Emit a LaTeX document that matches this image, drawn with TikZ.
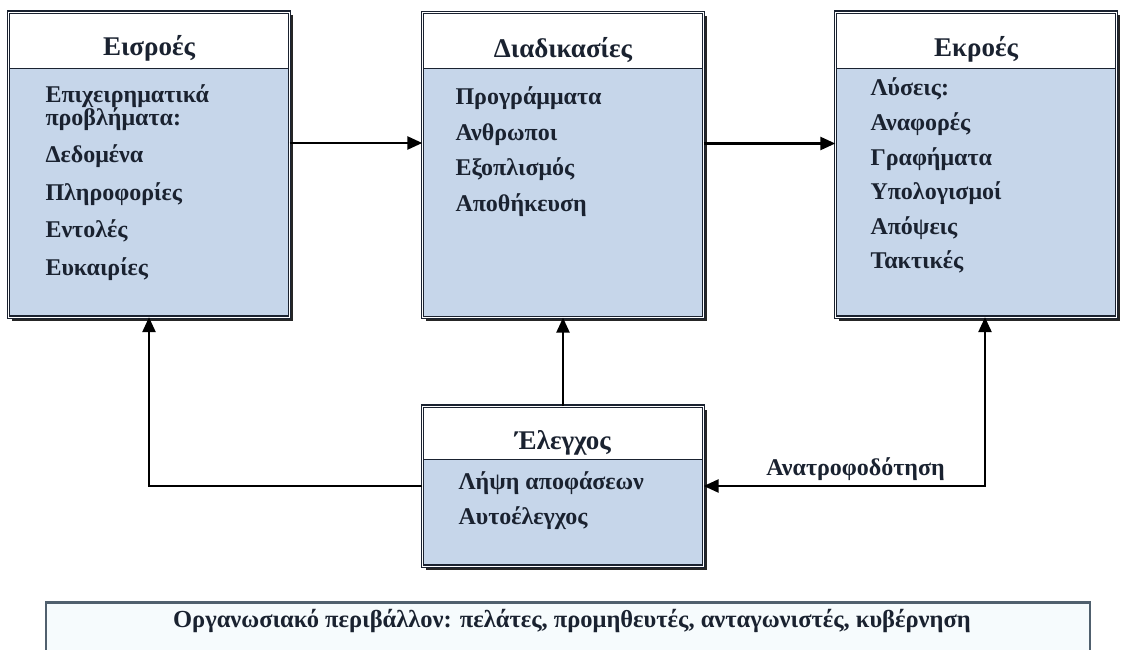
\documentclass[tikz,border=0pt]{standalone}
\usepackage{fontspec}
\setmainfont{Liberation Serif}
\usepackage{tikz}
\usetikzlibrary{arrows.meta,calc,positioning}
\definecolor{boxblue}{RGB}{198,214,234}
\definecolor{framec}{RGB}{26,34,48}
\definecolor{envline}{RGB}{80,96,110}
\definecolor{envfill}{RGB}{246,251,253}
\lineskiplimit=-30pt
\tikzset{
  sysbox/.style={fill=boxblue, minimum width=281pt, inner sep=0pt,
    preaction={fill=black!85, transform canvas={xshift=3.5pt, yshift=-3.5pt}},
    path picture={
      \fill[white] (path picture bounding box.north west) rectangle ([yshift=-#1]path picture bounding box.north east);
      \draw[framec, line width=0.9pt] ([yshift=-#1]path picture bounding box.north west) -- ([yshift=-#1]path picture bounding box.north east);},
    postaction={draw=framec, line width=1.2pt, double=white, double distance=0.9pt}},
  ttl/.style={font=\bfseries\fontsize{27}{30}\selectfont, text=framec, anchor=base, inner sep=0pt},
  items/.style={font=\bfseries\fontsize{24}{#1}\selectfont, text=framec,
    align=left, anchor=north west, inner sep=0pt},
  arr/.style={-{Triangle[length=15pt,width=13pt]}, line width=2.6pt, draw=black},
  fbarr/.style={{Triangle[length=15pt,width=13pt]}-{Triangle[length=15pt,width=13pt]}, line width=2.6pt, draw=black},
  lbl/.style={font=\bfseries\fontsize{24}{28}\selectfont, text=framec, inner sep=0pt},
  envbox/.style={draw=envline, line width=2.5pt, fill=envfill, minimum width=1044pt, minimum height=52pt, anchor=north},
  envtext/.style={font=\bfseries\fontsize{24.5}{28}\selectfont, text=framec, anchor=base, inner sep=0pt},
}

\begin{document}
\begin{tikzpicture}[x=1pt, y=-1pt]
\useasboundingbox (0,0) rectangle (1122,650);

% the four system boxes
\node[sysbox=56pt, minimum height=305pt] (inp) at (149,164.5) {};
\node[sysbox=56pt, minimum height=305pt] (proc) at (563,165) {};
\node[sysbox=56pt, minimum height=305pt] (outp) at (976,164.5) {};
\node[sysbox=53pt, minimum height=160pt] (ctl) at (563,486) {};

\node[ttl] (inp-t) at ([yshift=-44pt]inp.north) {Εισροές};
\node[ttl] (proc-t) at ([yshift=-45pt]proc.north) {Διαδικασίες};
\node[ttl] (outp-t) at ([yshift=-45pt]outp.north) {Εκροές};
\node[ttl] (ctl-t) at ([yshift=-44pt]ctl.north) {Έλεγχος};

\node[items=37.5pt] (inp-b) at ([xshift=37pt,yshift=-73pt]inp.north west)
  {\rule{0pt}{17pt}Επιχειρηματικά\\[-15pt]προβλήματα:\\[0pt]Δεδομένα\\Πληροφορίες\\Εντολές\\Ευκαιρίες};
\node[items=35.7pt] (proc-b) at ([xshift=33pt,yshift=-74pt]proc.north west)
  {\rule{0pt}{17pt}Προγράμματα\\Ανθρωποι\\Εξοπλισμός\\Αποθήκευση};
\node[items=34.6pt] (outp-b) at ([xshift=35pt,yshift=-66pt]outp.north west)
  {\rule{0pt}{17pt}Λύσεις:\\Αναφορές\\Γραφήματα\\Υπολογισμοί\\Απόψεις\\Τακτικές};
\node[items=35pt] (ctl-b) at ([xshift=36pt,yshift=-66pt]ctl.north west)
  {\rule{0pt}{17pt}Λήψη αποφάσεων\\Αυτοέλεγχος};

% flows
\draw[arr] ([yshift=21.5pt]inp.east) -- ([yshift=21.5pt]inp.east -| proc.west);
\draw[arr] ([yshift=21.5pt]proc.east) -- ([yshift=21.5pt]proc.east -| outp.west);
\draw[arr] (ctl.west) -| (inp.south);
\draw[arr] (ctl.north) -- (proc.south);
\draw[fbarr] (ctl.east) -| node[lbl, pos=0.27, above=4pt] (fb) {Ανατροφοδότηση} ([xshift=9pt]outp.south);

\node[envbox] (env) at (568,601) {};
\node[envtext] (env-t) at (572,627) {Οργανωσιακό περιβάλλον: πελάτες, προμηθευτές, ανταγωνιστές, κυβέρνηση};
\end{tikzpicture}
\end{document}
